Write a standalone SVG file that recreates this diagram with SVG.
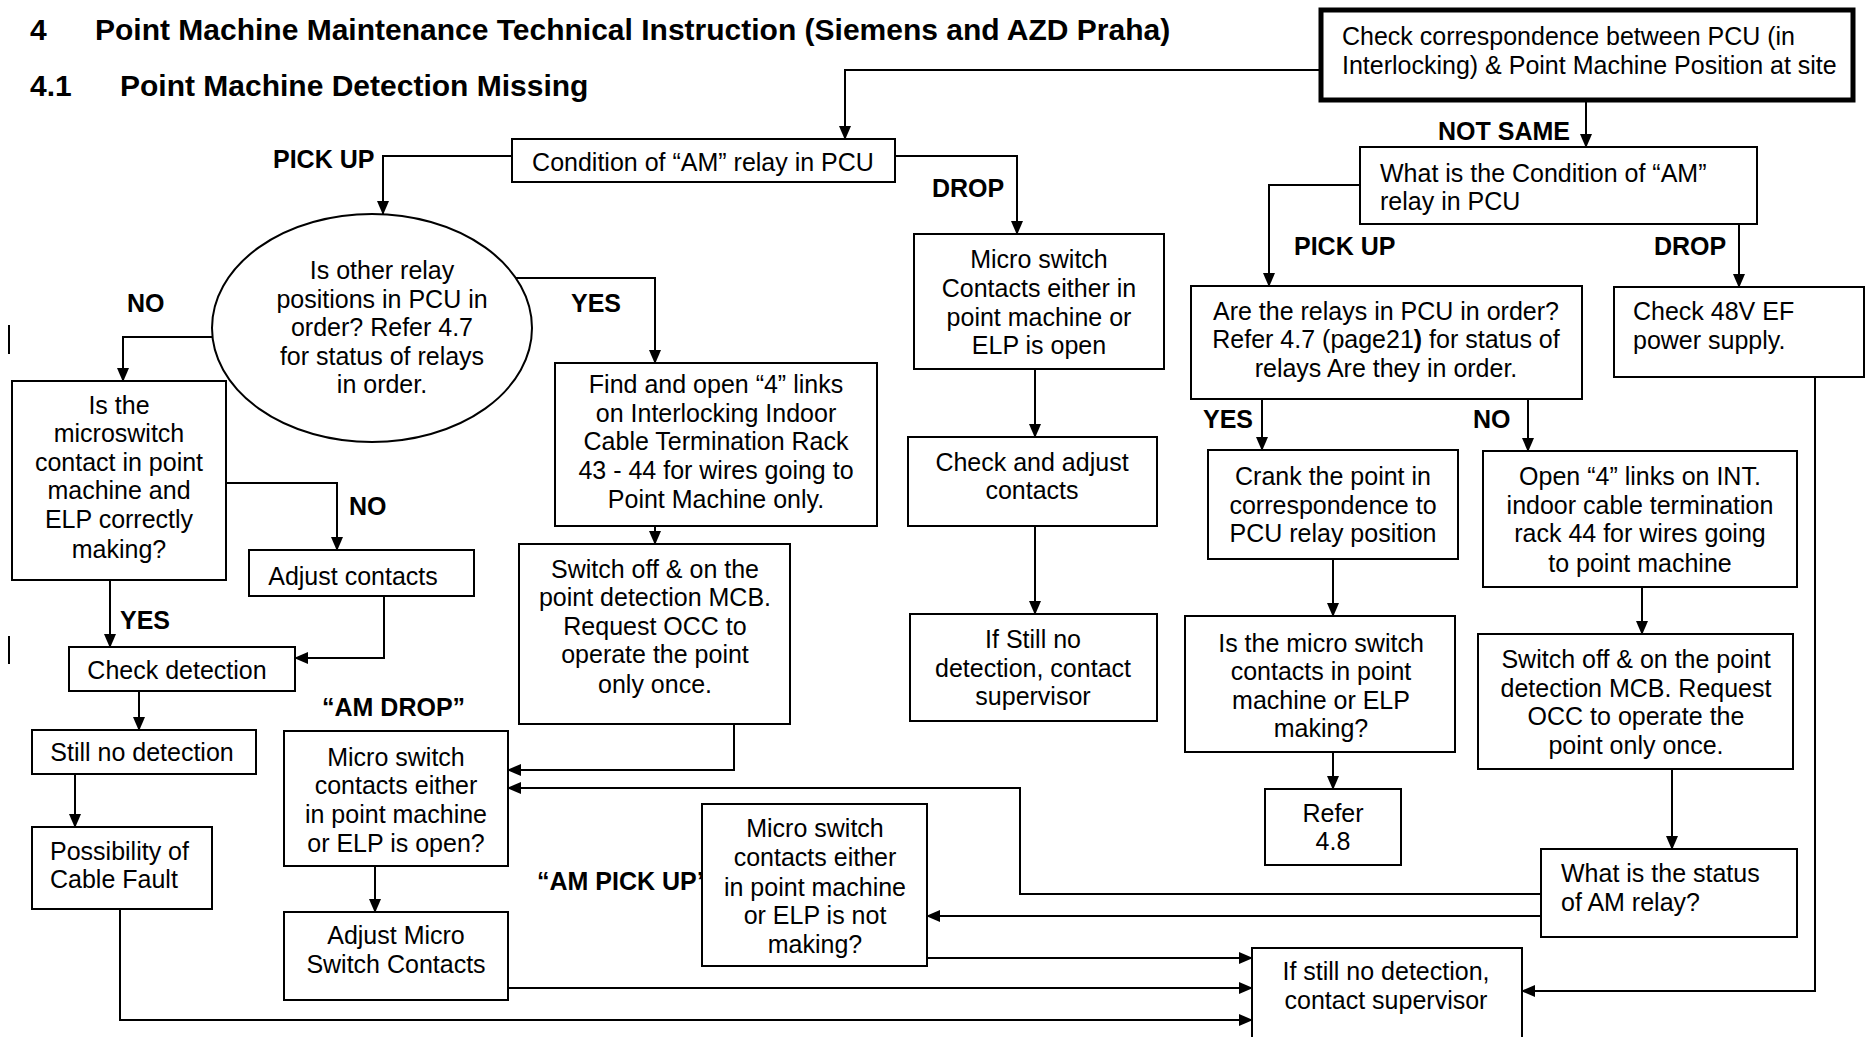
<svg xmlns="http://www.w3.org/2000/svg" width="1866" height="1037" viewBox="0 0 1866 1037">
  <defs>
    <marker id="arrow" markerUnits="userSpaceOnUse" markerWidth="14" markerHeight="12" refX="13" refY="6" orient="auto">
      <path d="M0,0 L14,6 L0,12 z" fill="#000"/>
    </marker>
    <style>
      .box { fill: #fff; stroke: #000; stroke-width: 2; }
      .thick { fill: #fff; stroke: #000; stroke-width: 5; }
      .t { font-family: "Liberation Sans", Arial, sans-serif; font-size: 25px; fill: #000; }
      .m { text-anchor: middle; }
      .b { font-weight: bold; }
      .h { font-family: "Liberation Sans", Arial, sans-serif; font-size: 30px; font-weight: bold; fill: #000; }
      .conn { fill: none; stroke: #000; stroke-width: 2; marker-end: url(#arrow); }
      .bar { stroke: #000; stroke-width: 2; }
    </style>
  </defs>

  <rect width="1866" height="1037" fill="#fff"/>

  <!-- headings -->
  <g id="headings">
    <text class="h" x="30" y="40">4</text>
    <text class="h" x="95" y="40">Point Machine Maintenance Technical Instruction (Siemens and AZD Praha)</text>
    <text class="h" x="30" y="96">4.1</text>
    <text class="h" x="120" y="96">Point Machine Detection Missing</text>
  </g>

  <!-- margin change bars -->
  <g id="margin-bars">
    <line class="bar" x1="9" y1="325" x2="9" y2="354"/>
    <line class="bar" x1="9" y1="636" x2="9" y2="664"/>
  </g>

  <!-- connectors -->
  <g id="connectors">
    <path class="conn" d="M1321,70 H845 V139"/>
    <path class="conn" d="M512,156 H383 V214"/>
    <path class="conn" d="M895,156 H1017 V234"/>
    <path class="conn" d="M1586,100 V147"/>
    <path class="conn" d="M1360,185 H1269 V286"/>
    <path class="conn" d="M1739,224 V287"/>
    <path class="conn" d="M516,278 H655 V363"/>
    <path class="conn" d="M212,337 H123 V381"/>
    <path class="conn" d="M655,526 V544"/>
    <path class="conn" d="M1035,369 V437"/>
    <path class="conn" d="M1035,526 V614"/>
    <path class="conn" d="M226,483 H337 V550"/>
    <path class="conn" d="M110,580 V647"/>
    <path class="conn" d="M384,596 V658 H295"/>
    <path class="conn" d="M139,691 V730"/>
    <path class="conn" d="M75,774 V827"/>
    <path class="conn" d="M120,909 V1020 H1252"/>
    <path class="conn" d="M734,724 V770 H508"/>
    <path class="conn" d="M375,866 V912"/>
    <path class="conn" d="M508,988 H1252"/>
    <path class="conn" d="M927,958 H1252"/>
    <path class="conn" d="M1541,894 H1020 V788 H508"/>
    <path class="conn" d="M1541,916 H927"/>
    <path class="conn" d="M1815,377 V991 H1522"/>
    <path class="conn" d="M1262,399 V450"/>
    <path class="conn" d="M1528,399 V451"/>
    <path class="conn" d="M1333,559 V616"/>
    <path class="conn" d="M1333,752 V789"/>
    <path class="conn" d="M1642,587 V634"/>
    <path class="conn" d="M1672,769 V849"/>
  </g>

  <!-- branch labels -->
  <g id="labels">
    <text class="t b" x="273" y="168">PICK UP</text>
    <text class="t b" x="932" y="197">DROP</text>
    <text class="t b" x="1438" y="140">NOT SAME</text>
    <text class="t b" x="1294" y="255">PICK UP</text>
    <text class="t b" x="1654" y="255">DROP</text>
    <text class="t b" x="127" y="312">NO</text>
    <text class="t b" x="571" y="312">YES</text>
    <text class="t b" x="349" y="515">NO</text>
    <text class="t b" x="120" y="629">YES</text>
    <text class="t b" x="1203" y="428">YES</text>
    <text class="t b" x="1473" y="428">NO</text>
    <text class="t b" x="322" y="716">“AM DROP”</text>
    <text class="t b" x="537" y="890">“AM PICK UP”</text>
  </g>

  <!-- nodes -->
  <g id="check-correspondence">
    <rect class="thick" x="1321" y="10" width="532" height="90"/>
    <text class="t" x="1342" y="45">Check correspondence between PCU (in</text>
    <text class="t" x="1342" y="74">Interlocking) &amp; Point Machine Position at site</text>
  </g>

  <g id="am-condition">
    <rect class="box" x="512" y="139" width="383" height="43"/>
    <text class="t m" x="703" y="171">Condition of “AM” relay in PCU</text>
  </g>

  <g id="other-relays">
    <ellipse class="box" cx="372" cy="328" rx="160" ry="114"/>
    <text class="t m" x="382" y="279">Is other relay</text>
    <text class="t m" x="382" y="308">positions in PCU in</text>
    <text class="t m" x="382" y="336">order? Refer 4.7</text>
    <text class="t m" x="382" y="365">for status of relays</text>
    <text class="t m" x="382" y="393">in order.</text>
  </g>

  <g id="microswitch-open">
    <rect class="box" x="914" y="234" width="250" height="135"/>
    <text class="t m" x="1039" y="268">Micro switch</text>
    <text class="t m" x="1039" y="297">Contacts either in</text>
    <text class="t m" x="1039" y="326">point machine or</text>
    <text class="t m" x="1039" y="354">ELP is open</text>
  </g>

  <g id="check-adjust">
    <rect class="box" x="908" y="437" width="249" height="89"/>
    <text class="t m" x="1032" y="471">Check and adjust</text>
    <text class="t m" x="1032" y="499">contacts</text>
  </g>

  <g id="still-no-detection-mid">
    <rect class="box" x="910" y="614" width="247" height="107"/>
    <text class="t m" x="1033" y="648">If Still no</text>
    <text class="t m" x="1033" y="677">detection, contact</text>
    <text class="t m" x="1033" y="705">supervisor</text>
  </g>

  <g id="am-condition-pcu">
    <rect class="box" x="1360" y="147" width="397" height="77"/>
    <text class="t" x="1380" y="182">What is the Condition of “AM”</text>
    <text class="t" x="1380" y="210">relay in PCU</text>
  </g>

  <g id="relays-in-order">
    <rect class="box" x="1191" y="286" width="391" height="113"/>
    <text class="t m" x="1386" y="320">Are the relays in PCU in order?</text>
    <text class="t m" x="1386" y="348">Refer 4.7 (page21<tspan class="b">)</tspan> for status of</text>
    <text class="t m" x="1386" y="377">relays Are they in order.</text>
  </g>

  <g id="check-48v">
    <rect class="box" x="1614" y="287" width="250" height="90"/>
    <text class="t" x="1633" y="320">Check 48V EF</text>
    <text class="t" x="1633" y="349">power supply.</text>
  </g>

  <g id="microswitch-making">
    <rect class="box" x="12" y="381" width="214" height="199"/>
    <text class="t m" x="119" y="414">Is the</text>
    <text class="t m" x="119" y="442">microswitch</text>
    <text class="t m" x="119" y="471">contact in point</text>
    <text class="t m" x="119" y="499">machine and</text>
    <text class="t m" x="119" y="528">ELP correctly</text>
    <text class="t m" x="119" y="558">making?</text>
  </g>

  <g id="open-links-43-44">
    <rect class="box" x="555" y="363" width="322" height="163"/>
    <text class="t m" x="716" y="393">Find and open “4” links</text>
    <text class="t m" x="716" y="422">on Interlocking Indoor</text>
    <text class="t m" x="716" y="450">Cable Termination Rack</text>
    <text class="t m" x="716" y="479">43 - 44 for wires going to</text>
    <text class="t m" x="716" y="508">Point Machine only.</text>
  </g>

  <g id="adjust-contacts">
    <rect class="box" x="249" y="550" width="225" height="46"/>
    <text class="t m" x="353" y="585">Adjust contacts</text>
  </g>

  <g id="mcb-reset-mid">
    <rect class="box" x="519" y="544" width="271" height="180"/>
    <text class="t m" x="655" y="578">Switch off &amp; on the</text>
    <text class="t m" x="655" y="606">point detection MCB.</text>
    <text class="t m" x="655" y="635">Request OCC to</text>
    <text class="t m" x="655" y="663">operate the point</text>
    <text class="t m" x="655" y="693">only once.</text>
  </g>

  <g id="check-detection">
    <rect class="box" x="69" y="647" width="226" height="44"/>
    <text class="t m" x="177" y="679">Check detection</text>
  </g>

  <g id="still-no-detection">
    <rect class="box" x="32" y="730" width="224" height="44"/>
    <text class="t m" x="142" y="761">Still no detection</text>
  </g>

  <g id="cable-fault">
    <rect class="box" x="32" y="827" width="180" height="82"/>
    <text class="t" x="50" y="860">Possibility of</text>
    <text class="t" x="50" y="888">Cable Fault</text>
  </g>

  <g id="am-drop-check">
    <rect class="box" x="284" y="731" width="224" height="135"/>
    <text class="t m" x="396" y="766">Micro switch</text>
    <text class="t m" x="396" y="794">contacts either</text>
    <text class="t m" x="396" y="823">in point machine</text>
    <text class="t m" x="396" y="852">or ELP is open?</text>
  </g>

  <g id="adjust-micro">
    <rect class="box" x="284" y="912" width="224" height="88"/>
    <text class="t m" x="396" y="944">Adjust Micro</text>
    <text class="t m" x="396" y="973">Switch Contacts</text>
  </g>

  <g id="am-pickup-check">
    <rect class="box" x="702" y="804" width="225" height="162"/>
    <text class="t m" x="815" y="837">Micro switch</text>
    <text class="t m" x="815" y="866">contacts either</text>
    <text class="t m" x="815" y="896">in point machine</text>
    <text class="t m" x="815" y="924">or ELP is not</text>
    <text class="t m" x="815" y="953">making?</text>
  </g>

  <g id="crank-point">
    <rect class="box" x="1208" y="450" width="250" height="109"/>
    <text class="t m" x="1333" y="485">Crank the point in</text>
    <text class="t m" x="1333" y="514">correspondence to</text>
    <text class="t m" x="1333" y="542">PCU relay position</text>
  </g>

  <g id="open-links-44">
    <rect class="box" x="1483" y="451" width="314" height="136"/>
    <text class="t m" x="1640" y="485">Open “4” links on INT.</text>
    <text class="t m" x="1640" y="514">indoor cable termination</text>
    <text class="t m" x="1640" y="542">rack 44 for wires going</text>
    <text class="t m" x="1640" y="572">to point machine</text>
  </g>

  <g id="microswitch-making-right">
    <rect class="box" x="1185" y="616" width="270" height="136"/>
    <text class="t m" x="1321" y="652">Is the micro switch</text>
    <text class="t m" x="1321" y="680">contacts in point</text>
    <text class="t m" x="1321" y="709">machine or ELP</text>
    <text class="t m" x="1321" y="737">making?</text>
  </g>

  <g id="mcb-reset-right">
    <rect class="box" x="1478" y="634" width="315" height="135"/>
    <text class="t m" x="1636" y="668">Switch off &amp; on the point</text>
    <text class="t m" x="1636" y="697">detection MCB. Request</text>
    <text class="t m" x="1636" y="725">OCC to operate the</text>
    <text class="t m" x="1636" y="754">point only once.</text>
  </g>

  <g id="refer-4-8">
    <rect class="box" x="1265" y="789" width="136" height="76"/>
    <text class="t m" x="1333" y="822">Refer</text>
    <text class="t m" x="1333" y="850">4.8</text>
  </g>

  <g id="am-status">
    <rect class="box" x="1541" y="849" width="256" height="88"/>
    <text class="t" x="1561" y="882">What is the status</text>
    <text class="t" x="1561" y="911">of AM relay?</text>
  </g>

  <g id="contact-supervisor">
    <rect class="box" x="1252" y="948" width="270" height="100"/>
    <text class="t m" x="1386" y="980">If still no detection,</text>
    <text class="t m" x="1386" y="1009">contact supervisor</text>
  </g>
</svg>
